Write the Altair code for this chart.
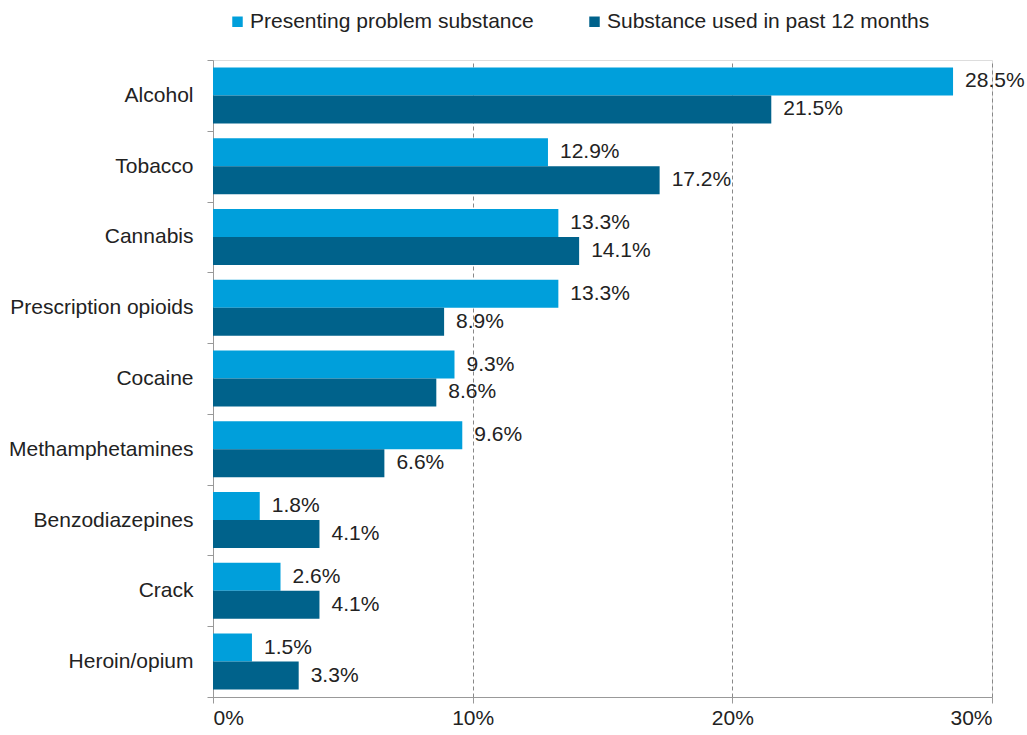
import altair as alt
import pandas as pd

categories = ["Alcohol", "Tobacco", "Cannabis", "Prescription opioids", "Cocaine",
              "Methamphetamines", "Benzodiazepines", "Crack", "Heroin/opium"]
series_names = ["Presenting problem substance", "Substance used in past 12 months"]
presenting = [28.5, 12.9, 13.3, 13.3, 9.3, 9.6, 1.8, 2.6, 1.5]
past12 = [21.5, 17.2, 14.1, 8.9, 8.6, 6.6, 4.1, 4.1, 3.3]
colors = ["#009FDB", "#00628B"]
x_ticks = [0, 10, 20, 30]

rows = []
for c, a, b in zip(categories, presenting, past12):
    rows.append({"category": c, "series": series_names[0], "value": a})
    rows.append({"category": c, "series": series_names[1], "value": b})
df = pd.DataFrame(rows)

FONT = "Liberation Sans"
FS = 21
TXT = "#222222"

base = alt.Chart(df).encode(
    y=alt.Y("category:N", sort=categories, title=None,
            scale=alt.Scale(paddingInner=0, paddingOuter=0),
            axis=alt.Axis(tickBand="extent", labelFontSize=FS, labelFont=FONT,
                          labelColor=TXT, labelPadding=14, tickSize=6,
                          tickColor="#999999", domainColor="#999999", grid=False,
                          labelLimit=300)),
    yOffset=alt.YOffset("series:N", sort=series_names,
                        scale=alt.Scale(paddingInner=0, paddingOuter=0.264)),
)

bars = base.mark_bar().encode(
    x=alt.X("value:Q", title=None,
            scale=alt.Scale(domain=[0, 30], nice=False),
            axis=alt.Axis(values=x_ticks, labelExpr="datum.value + '%'",
                          labelFontSize=FS, labelFont=FONT, labelColor=TXT,
                          labelPadding=4, tickSize=6, tickColor="#999999",
                          domainColor="#999999", grid=True, gridDash=[4, 3],
                          gridColor="#888888", gridWidth=1)),
    color=alt.Color("series:N", sort=series_names,
                    scale=alt.Scale(domain=series_names, range=colors),
                    legend=alt.Legend(title=None, orient="none", direction="horizontal",
                                      legendX=14, legendY=-49, symbolType="square",
                                      symbolSize=110, symbolStrokeWidth=0,
                                      labelFontSize=FS, labelFont=FONT,
                                      labelColor=TXT, columnPadding=50,
                                      labelOffset=2, labelLimit=500)),
)

labels = base.mark_text(align="left", baseline="middle", dx=12, fontSize=FS,
                        font=FONT, color=TXT).transform_calculate(
    label="format(datum.value, '.1f') + '%'"
).encode(
    x=alt.X("value:Q"),
    text=alt.Text("label:N"),
)

chart = alt.layer(bars, labels).properties(
    width=779, height=637,
    autosize=alt.AutoSizeParams(type="none"),
    padding={"left": 213, "top": 60, "right": 35, "bottom": 38},
).configure_view(stroke=None).configure(background="white")

chart.save("out.html", embed_options={"renderer": "svg", "actions": False})
